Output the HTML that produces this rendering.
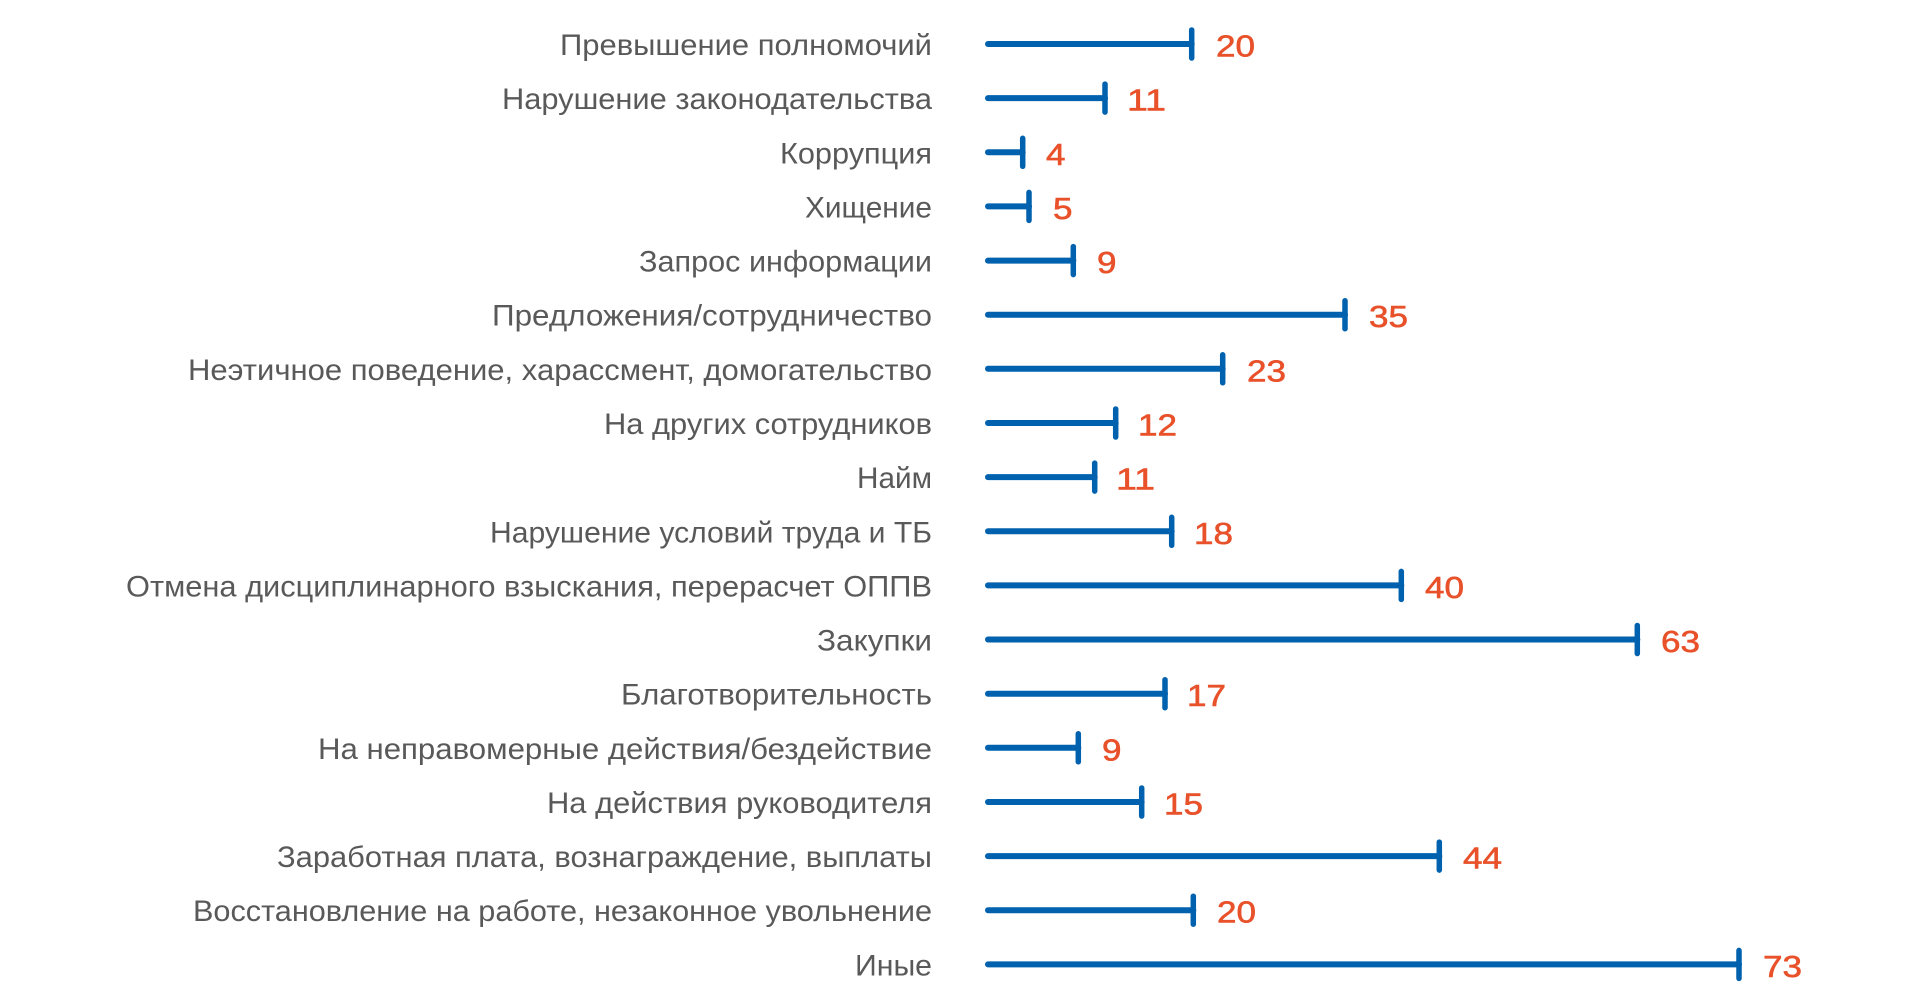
<!DOCTYPE html>
<html>
<head>
<meta charset="utf-8">
<style>
  html, body { margin:0; padding:0; background:#ffffff; }
  body { width:1915px; height:996px; overflow:hidden; }
  svg { display:block; }
  .lbl { font-family:"Liberation Sans", "DejaVu Sans", sans-serif; font-size:29.5px; fill:#595959; }
  .val { font-family:"Liberation Sans", "DejaVu Sans", sans-serif; font-size:31px; fill:#e8512a; stroke:#e8512a; stroke-width:0.6px; }
  .bar { stroke:#0061ae; stroke-width:6; stroke-linecap:round; }
  .cap { stroke:#0061ae; stroke-width:5.5; stroke-linecap:round; }
</style>
</head>
<body>
<svg width="1915" height="996" viewBox="0 0 1915 996" xmlns="http://www.w3.org/2000/svg">
  <!-- Row 0 -->
  <text class="lbl" x="932" y="55" text-anchor="end" textLength="372" lengthAdjust="spacingAndGlyphs">Превышение полномочий</text>
  <line class="bar" x1="988" y1="44" x2="1191.7" y2="44"/>
  <line class="cap" x1="1191.7" y1="30" x2="1191.7" y2="58"/>
  <text class="val" x="1216" y="56.5" textLength="39" lengthAdjust="spacingAndGlyphs">20</text>

  <!-- Row 1 -->
  <text class="lbl" x="932" y="109.1" text-anchor="end" textLength="430" lengthAdjust="spacingAndGlyphs">Нарушение законодательства</text>
  <line class="bar" x1="988" y1="98.1" x2="1105" y2="98.1"/>
  <line class="cap" x1="1105" y1="84.1" x2="1105" y2="112.1"/>
  <text class="val" x="1127" y="110.6" textLength="39" lengthAdjust="spacingAndGlyphs">11</text>

  <!-- Row 2 -->
  <text class="lbl" x="932" y="163.3" text-anchor="end" textLength="152" lengthAdjust="spacingAndGlyphs">Коррупция</text>
  <line class="bar" x1="988" y1="152.3" x2="1022.7" y2="152.3"/>
  <line class="cap" x1="1022.7" y1="138.3" x2="1022.7" y2="166.3"/>
  <text class="val" x="1046" y="164.8" textLength="19.5" lengthAdjust="spacingAndGlyphs">4</text>

  <!-- Row 3 -->
  <text class="lbl" x="932" y="217.4" text-anchor="end" textLength="127" lengthAdjust="spacingAndGlyphs">Хищение</text>
  <line class="bar" x1="988" y1="206.4" x2="1029" y2="206.4"/>
  <line class="cap" x1="1029" y1="192.4" x2="1029" y2="220.4"/>
  <text class="val" x="1053" y="218.9" textLength="19.5" lengthAdjust="spacingAndGlyphs">5</text>

  <!-- Row 4 -->
  <text class="lbl" x="932" y="271.6" text-anchor="end" textLength="293" lengthAdjust="spacingAndGlyphs">Запрос информации</text>
  <line class="bar" x1="988" y1="260.6" x2="1073.3" y2="260.6"/>
  <line class="cap" x1="1073.3" y1="246.6" x2="1073.3" y2="274.6"/>
  <text class="val" x="1097" y="273.1" textLength="19.5" lengthAdjust="spacingAndGlyphs">9</text>

  <!-- Row 5 -->
  <text class="lbl" x="932" y="325.7" text-anchor="end" textLength="440" lengthAdjust="spacingAndGlyphs">Предложения/сотрудничество</text>
  <line class="bar" x1="988" y1="314.7" x2="1345" y2="314.7"/>
  <line class="cap" x1="1345" y1="300.7" x2="1345" y2="328.7"/>
  <text class="val" x="1369" y="327.2" textLength="39" lengthAdjust="spacingAndGlyphs">35</text>

  <!-- Row 6 -->
  <text class="lbl" x="932" y="379.8" text-anchor="end" textLength="744" lengthAdjust="spacingAndGlyphs">Неэтичное поведение, харассмент, домогательство</text>
  <line class="bar" x1="988" y1="368.8" x2="1222.7" y2="368.8"/>
  <line class="cap" x1="1222.7" y1="354.8" x2="1222.7" y2="382.8"/>
  <text class="val" x="1247" y="381.3" textLength="39" lengthAdjust="spacingAndGlyphs">23</text>

  <!-- Row 7 -->
  <text class="lbl" x="932" y="434" text-anchor="end" textLength="328" lengthAdjust="spacingAndGlyphs">На других сотрудников</text>
  <line class="bar" x1="988" y1="423" x2="1115.7" y2="423"/>
  <line class="cap" x1="1115.7" y1="409" x2="1115.7" y2="437"/>
  <text class="val" x="1138" y="435.5" textLength="39" lengthAdjust="spacingAndGlyphs">12</text>

  <!-- Row 8 -->
  <text class="lbl" x="932" y="488.1" text-anchor="end" textLength="75" lengthAdjust="spacingAndGlyphs">Найм</text>
  <line class="bar" x1="988" y1="477.1" x2="1094.7" y2="477.1"/>
  <line class="cap" x1="1094.7" y1="463.1" x2="1094.7" y2="491.1"/>
  <text class="val" x="1116" y="489.6" textLength="39" lengthAdjust="spacingAndGlyphs">11</text>

  <!-- Row 9 -->
  <text class="lbl" x="932" y="542.3" text-anchor="end" textLength="442" lengthAdjust="spacingAndGlyphs">Нарушение условий труда и ТБ</text>
  <line class="bar" x1="988" y1="531.3" x2="1171.7" y2="531.3"/>
  <line class="cap" x1="1171.7" y1="517.3" x2="1171.7" y2="545.3"/>
  <text class="val" x="1194" y="543.8" textLength="39" lengthAdjust="spacingAndGlyphs">18</text>

  <!-- Row 10 -->
  <text class="lbl" x="932" y="596.4" text-anchor="end" textLength="806" lengthAdjust="spacingAndGlyphs">Отмена дисциплинарного взыскания, перерасчет ОППВ</text>
  <line class="bar" x1="988" y1="585.4" x2="1401.3" y2="585.4"/>
  <line class="cap" x1="1401.3" y1="571.4" x2="1401.3" y2="599.4"/>
  <text class="val" x="1425" y="597.9" textLength="39" lengthAdjust="spacingAndGlyphs">40</text>

  <!-- Row 11 -->
  <text class="lbl" x="932" y="650.5" text-anchor="end" textLength="115" lengthAdjust="spacingAndGlyphs">Закупки</text>
  <line class="bar" x1="988" y1="639.5" x2="1637.3" y2="639.5"/>
  <line class="cap" x1="1637.3" y1="625.5" x2="1637.3" y2="653.5"/>
  <text class="val" x="1661" y="652" textLength="39" lengthAdjust="spacingAndGlyphs">63</text>

  <!-- Row 12 -->
  <text class="lbl" x="932" y="704.7" text-anchor="end" textLength="311" lengthAdjust="spacingAndGlyphs">Благотворительность</text>
  <line class="bar" x1="988" y1="693.7" x2="1165" y2="693.7"/>
  <line class="cap" x1="1165" y1="679.7" x2="1165" y2="707.7"/>
  <text class="val" x="1187" y="706.2" textLength="39" lengthAdjust="spacingAndGlyphs">17</text>

  <!-- Row 13 -->
  <text class="lbl" x="932" y="758.8" text-anchor="end" textLength="614" lengthAdjust="spacingAndGlyphs">На неправомерные действия/бездействие</text>
  <line class="bar" x1="988" y1="747.8" x2="1078.3" y2="747.8"/>
  <line class="cap" x1="1078.3" y1="733.8" x2="1078.3" y2="761.8"/>
  <text class="val" x="1102" y="760.3" textLength="19.5" lengthAdjust="spacingAndGlyphs">9</text>

  <!-- Row 14 -->
  <text class="lbl" x="932" y="813" text-anchor="end" textLength="385" lengthAdjust="spacingAndGlyphs">На действия руководителя</text>
  <line class="bar" x1="988" y1="802" x2="1141.7" y2="802"/>
  <line class="cap" x1="1141.7" y1="788" x2="1141.7" y2="816"/>
  <text class="val" x="1164" y="814.5" textLength="39" lengthAdjust="spacingAndGlyphs">15</text>

  <!-- Row 15 -->
  <text class="lbl" x="932" y="867.1" text-anchor="end" textLength="655" lengthAdjust="spacingAndGlyphs">Заработная плата, вознаграждение, выплаты</text>
  <line class="bar" x1="988" y1="856.1" x2="1439.3" y2="856.1"/>
  <line class="cap" x1="1439.3" y1="842.1" x2="1439.3" y2="870.1"/>
  <text class="val" x="1463" y="868.6" textLength="39" lengthAdjust="spacingAndGlyphs">44</text>

  <!-- Row 16 -->
  <text class="lbl" x="932" y="921.2" text-anchor="end" textLength="739" lengthAdjust="spacingAndGlyphs">Восстановление на работе, незаконное увольнение</text>
  <line class="bar" x1="988" y1="910.2" x2="1193.3" y2="910.2"/>
  <line class="cap" x1="1193.3" y1="896.2" x2="1193.3" y2="924.2"/>
  <text class="val" x="1217" y="922.7" textLength="39" lengthAdjust="spacingAndGlyphs">20</text>

  <!-- Row 17 -->
  <text class="lbl" x="932" y="975.4" text-anchor="end" textLength="77" lengthAdjust="spacingAndGlyphs">Иные</text>
  <line class="bar" x1="988" y1="964.4" x2="1739" y2="964.4"/>
  <line class="cap" x1="1739" y1="950.4" x2="1739" y2="978.4"/>
  <text class="val" x="1763" y="976.9" textLength="39" lengthAdjust="spacingAndGlyphs">73</text>
</svg>
</body>
</html>
